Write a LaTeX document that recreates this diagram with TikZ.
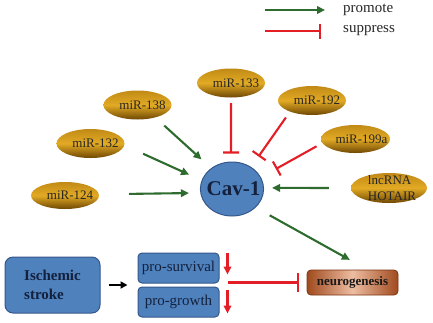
\documentclass[tikz,border=0pt]{standalone}
\usepackage{fontspec}
\setmainfont{Liberation Serif}
\usetikzlibrary{arrows.meta,shapes.geometric,calc}
\definecolor{grn}{HTML}{2E6B2E}
\definecolor{rd}{HTML}{E41E26}
\definecolor{goldT}{HTML}{C18A16}
\definecolor{goldM}{HTML}{E2AA24}
\definecolor{goldB}{HTML}{6E4704}
\definecolor{bluefill}{HTML}{4F81BD}
\definecolor{blueline}{HTML}{34578A}
\definecolor{navytxt}{HTML}{14213D}
\definecolor{brnD}{HTML}{A04A1E}
\definecolor{brnL}{HTML}{EDBDA2}
\definecolor{brnB}{HTML}{7C3512}
\begin{document}
\begin{tikzpicture}[x=1pt,y=-1pt,
  mirell/.style={ellipse, minimum width=68pt, minimum height=29pt, inner xsep=-10pt, inner ysep=0pt,
    top color=goldT, bottom color=goldB, middle color=goldM, draw=none, text=black!85,
    font=\fontsize{13}{16}\selectfont},
  prom/.style={draw=grn, line width=2.1pt, -{Triangle[length=8pt,width=7.5pt]}},
  supp/.style={draw=rd, line width=2.1pt, -{Bar[width=16pt,line width=2.1pt]}},
  rdarr/.style={draw=rd, line width=2.1pt, -{Triangle[length=8pt,width=7.5pt]}},
  blk/.style={draw=black, line width=2.1pt, -{Triangle[length=7pt,width=7pt]}},
  bluebox/.style={rectangle, fill=bluefill, draw=blueline, line width=1pt, inner sep=0pt},
  legtxt/.style={inner sep=0pt, font=\fontsize{15}{18}\selectfont, text=black!85},
]
\useasboundingbox (0,0) rectangle (433,322);

% legend
\node[legtxt, anchor=west] (lprom) at (343,10) {promote};
\node[legtxt, anchor=west] (lsupp) at (343,31) {suppress};
\coordinate (lp0) at (265,10);
\coordinate (ls0) at (265,31);
\draw[prom, shorten >=18pt] (lp0) -- (lprom.west);
\draw[supp, -{Bar[width=15pt,line width=2.1pt]}, shorten >=22pt] (ls0) -- (lsupp.west);

% miRNA ellipses
\node[mirell] (m133) at (231,83) {\hspace*{10pt}miR-133};
\node[mirell] (m138) at (137.5,105) {\hspace*{10pt}miR-138};
\node[mirell] (m192) at (312,100.5) {\hspace*{10pt}miR-192};
\node[mirell] (m132) at (90.5,143.5) {\hspace*{10pt}miR-132};
\node[mirell, minimum width=69pt, minimum height=28pt] (m199) at (355.5,139) {\hspace*{12pt}miR-199a};
\node[mirell, minimum height=27pt] (m124) at (65,195.5) {\hspace*{10pt}miR-124};
\node[mirell, minimum width=76pt, minimum height=30pt, inner ysep=-5pt, align=left] (hot) at (389,188)
  {\hspace*{6pt}lncRNA\\\hspace*{6pt}HOTAIR};

% Cav-1
\node[ellipse, minimum width=62pt, minimum height=54pt, inner xsep=-6pt, inner ysep=0pt,
  fill=bluefill, draw=blueline, line width=1pt, text=navytxt,
  font=\fontsize{21}{24}\selectfont\bfseries] (cav) at (232,189) {\hspace*{3pt}Cav-1};

% connectors to Cav-1
\draw[prom, shorten <=12pt, shorten >=13pt] (m138.-35) -- (cav.135);
\draw[prom, shorten <=20.5pt, shorten >=13.7pt] (m132.-3) -- (cav.164);
\draw[prom, shorten <=30pt, shorten >=11.3pt] (m124.2) -- (cav.187);
\draw[supp, shorten <=5.5pt, shorten >=8pt] (m133.south) -- (cav.92);
\draw[supp, shorten <=7pt, shorten >=12.8pt] (m192.207) -- (cav.49);
\draw[supp, shorten <=6.6pt, shorten >=17pt] (m199.187) -- (cav.22);
\draw[prom, shorten <=22pt, shorten >=8pt] (hot.west) -- (cav.2);

% bottom
\node[bluebox, rounded corners=8pt, minimum width=95pt, minimum height=56pt, align=left,
  text=navytxt, font=\fontsize{15}{19}\selectfont\bfseries] (isch) at (52.5,285) {Ischemic\\stroke};
\node[bluebox, rounded corners=4pt, minimum width=81pt, minimum height=30pt, text=navytxt,
  font=\fontsize{15}{18}\selectfont] (psurv) at (178.5,268) {pro-survival};
\node[bluebox, rounded corners=4pt, minimum width=81pt, minimum height=30pt, text=navytxt,
  font=\fontsize{15}{18}\selectfont] (pgrow) at (178.5,302) {pro-growth};
\node[rectangle, rounded corners=4pt, minimum width=91pt, minimum height=25pt, inner sep=0pt,
  left color=brnD, right color=brnD, middle color=brnL, draw=brnB, line width=0.8pt,
  text=black!90, font=\fontsize{13}{16}\selectfont\bfseries] (neuro) at (352.5,282.5) {neurogenesis};

\draw[prom, shorten <=16pt, shorten >=20pt] (cav.-38) -- (neuro.41);
\draw[blk, shorten <=8pt, shorten >=10pt] (isch.east) -- (isch.east -| psurv.west);
\draw[rdarr] ($(psurv.north east)+(8,0)$) -- ($(psurv.north east)+(8,22)$);
\draw[rdarr] ($(pgrow.north east)+(8,3)$) -- ($(pgrow.north east)+(8,27)$);
\coordinate (supst) at ($(psurv.east |- neuro.west)+(8,0)$);
\draw[supp, -{Bar[width=19pt,line width=2.1pt]}, shorten >=8pt] (supst) -- (neuro.west);
\end{tikzpicture}
\end{document}
